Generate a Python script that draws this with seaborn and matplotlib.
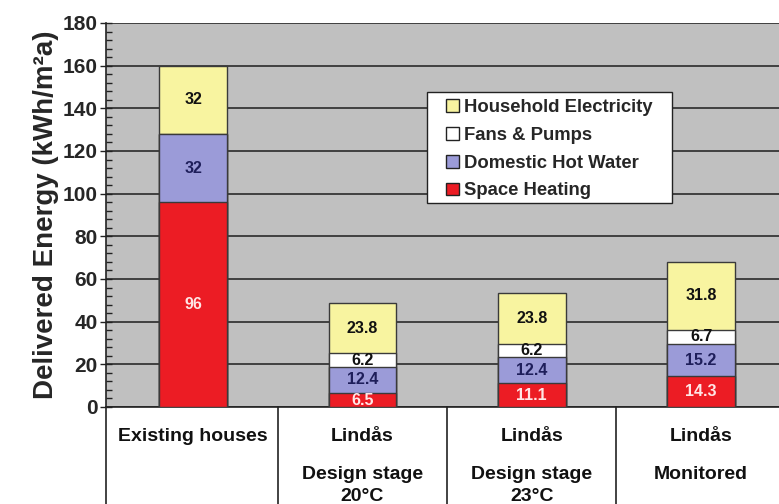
import matplotlib
matplotlib.use("Agg")
import matplotlib.pyplot as plt
from matplotlib.patches import Patch, Rectangle
from matplotlib.ticker import MultipleLocator
import seaborn as sns
import pandas as pd
import numpy as np

categories = ["Existing houses", "Lindås 20", "Lindås 23", "Lindås Mon"]
line1 = ["Existing houses", "Lindås", "Lindås", "Lindås"]
line2 = ["", "Design stage", "Design stage", "Monitored"]
line3 = ["", "20°C", "23°C", ""]

space_heating = [96, 6.5, 11.1, 14.3]
hot_water = [32, 12.4, 12.4, 15.2]
fans_pumps = [0, 6.2, 6.2, 6.7]
household_el = [32, 23.8, 23.8, 31.8]

series_names = ["Space Heating", "Domestic Hot Water", "Fans & Pumps", "Household Electricity"]
series_vals = [space_heating, hot_water, fans_pumps, household_el]
colors = ["#EC1C24", "#9B9BD8", "#FFFFFF", "#F8F4A0"]
text_colors = ["#FFE6E6", "#1E1E5A", "#111111", "#111111"]

sns.set_theme(style="white")
plt.rcParams['font.family'] = ['Liberation Sans', 'DejaVu Sans']
plt.rcParams['font.weight'] = 'bold'

fig = plt.figure(figsize=(7.79, 5.04), dpi=100)
ax = fig.add_axes([106/779, 97/504, 673/779, 384/504])
ax.set_facecolor("#C0C0C0")

vals = np.array(series_vals, dtype=float)
cum = np.cumsum(vals, axis=0)

# draw from top layer downward
for i in range(len(series_names) - 1, -1, -1):
    df = pd.DataFrame({"cat": categories, "val": cum[i]})
    sns.barplot(data=df, x="cat", y="val", order=categories, color=colors[i],
                saturation=1, width=0.4, edgecolor="#3a3a3a", linewidth=1.0,
                ax=ax, zorder=3)

# segment labels
for i in range(len(series_names)):
    for j in range(len(categories)):
        v = vals[i, j]
        if v <= 0:
            continue
        mid = cum[i, j] - v / 2
        lab = f"{v:g}"
        ax.text(j, mid, lab, ha="center", va="center", fontsize=11.5,
                fontweight="bold", color=text_colors[i], zorder=5)

ax.set_ylim(0, 180)
ax.set_xlim(-0.515, 3.46)
ax.yaxis.set_major_locator(MultipleLocator(20))
ax.yaxis.set_minor_locator(MultipleLocator(4))
ax.grid(axis="y", which="major", color="#2a2a2a", linewidth=1.2, zorder=1)
ax.set_axisbelow(True)
ax.tick_params(axis="y", which="major", direction="inout", length=8, width=1,
               labelsize=15, left=True, color="#222222", pad=2)
ax.tick_params(axis="y", which="minor", direction="in", length=4, width=1,
               left=True, color="#222222")
for lab in ax.get_yticklabels():
    lab.set_fontweight("bold")
ax.set_xticks([])
ax.set_xlabel("")
ax.set_ylabel("Delivered Energy (kWh/m²a)", fontsize=20, fontweight="bold", labelpad=3)

for s in ["top", "right"]:
    ax.spines[s].set_visible(False)
ax.spines["left"].set_color("#222222")
ax.spines["bottom"].set_color("#222222")
ax.spines["left"].set_linewidth(1.2)
ax.spines["bottom"].set_linewidth(1.2)

# table below axis
trans = ax.get_xaxis_transform()
for xb in [0.5, 1.5, 2.5]:
    ax.plot([xb, xb], [0, -0.26], transform=trans, color="#222222", lw=1.2, clip_on=False)
ax.plot([-0.515, -0.515], [0, -0.26], transform=trans, color="#222222", lw=1.2, clip_on=False)
for j in range(len(categories)):
    ax.text(j, -0.078, line1[j], transform=trans, ha="center", va="center", fontsize=14, fontweight="bold", color="#111111")
    if line2[j]:
        ax.text(j, -0.177, line2[j], transform=trans, ha="center", va="center", fontsize=14, fontweight="bold", color="#111111")
    if line3[j]:
        ax.text(j, -0.232, line3[j], transform=trans, ha="center", va="center", fontsize=14, fontweight="bold", color="#111111")

# legend box
box = Rectangle((0.477, 0.531), 0.364, 0.289, transform=ax.transAxes,
                facecolor="white", edgecolor="#222222", linewidth=1.0, zorder=9)
ax.add_patch(box)
handles = [Patch(facecolor=colors[i], edgecolor="#222222", linewidth=1.0, label=series_names[i])
           for i in range(len(series_names) - 1, -1, -1)]
leg = ax.legend(handles=handles, loc="upper left", bbox_to_anchor=(0.505, 0.802),
                frameon=False, fontsize=13.3, handlelength=0.7, handleheight=0.7,
                handletextpad=0.3, labelspacing=0.585, borderpad=0, borderaxespad=0)
for t in leg.get_texts():
    t.set_fontweight("bold")
leg.set_zorder(10)

fig.savefig("out.png", dpi=100)
